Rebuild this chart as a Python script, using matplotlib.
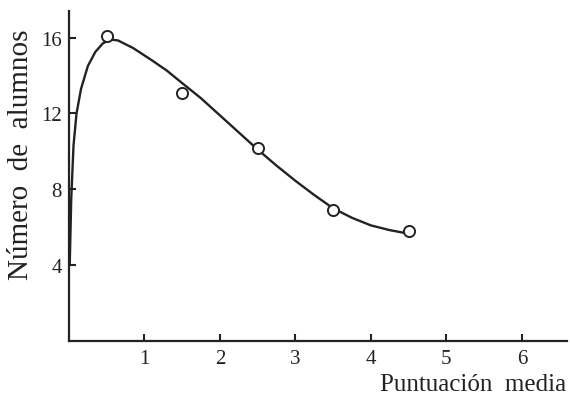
import matplotlib
matplotlib.use("Agg")
import matplotlib.pyplot as plt

# observed points (puntuación media, número de alumnos)
pts_x = [0.5, 1.5, 2.5, 3.5, 4.5]
pts_y = [16.1, 13.1, 10.2, 6.9, 5.8]

# hand-drawn smooth curve
curve_x = [0.01, 0.03, 0.06, 0.1, 0.16, 0.25, 0.35, 0.45, 0.55, 0.65, 0.85, 1.1,
           1.3, 1.5, 1.75, 2.0, 2.25, 2.5, 2.75, 3.0, 3.25, 3.5, 3.75, 4.0, 4.25, 4.45]
curve_y = [4.0, 7.5, 10.3, 12.0, 13.3, 14.5, 15.25, 15.7, 15.9, 15.85, 15.45, 14.8,
           14.25, 13.6, 12.8, 11.9, 11.0, 10.1, 9.25, 8.45, 7.7, 7.0, 6.5, 6.1, 5.85, 5.7]

xticks = [1, 2, 3, 4, 5, 6]
yticks = [4, 8, 12, 16]

plt.rcParams['font.family'] = ['Liberation Serif', 'DejaVu Serif']

fig = plt.figure(figsize=(5.7, 4.02), dpi=100)
ax = fig.add_axes([0.121, 0.149, 0.874, 0.821])

ax.plot(curve_x, curve_y, color='#222222', lw=1.7, solid_capstyle='round', zorder=2)
ax.plot(pts_x, pts_y, 'o', ms=8, mfc='white', mec='#222222', mew=1.4, zorder=3)

ax.set_xlim(0, 6.6)
ax.set_ylim(0, 17.4)
ax.set_xticks(xticks)
ax.set_yticks(yticks)
ax.tick_params(direction='in', length=5, width=1.5, labelsize=15, colors='#222222')
ax.tick_params(axis='x', pad=6)
ax.tick_params(axis='y', pad=5)

for s in ['top', 'right']:
    ax.spines[s].set_visible(False)
for s in ['left', 'bottom']:
    ax.spines[s].set_linewidth(1.6)
    ax.spines[s].set_color('#222222')

fig.text(0.993, 0.042, 'Puntuación  media', ha='right', va='center', fontsize=18, color='#222222')
fig.text(0.036, 0.615, 'Número  de  alumnos', rotation=90, ha='center', va='center',
         fontsize=21, color='#222222')

fig.savefig('out.png', dpi=100)
